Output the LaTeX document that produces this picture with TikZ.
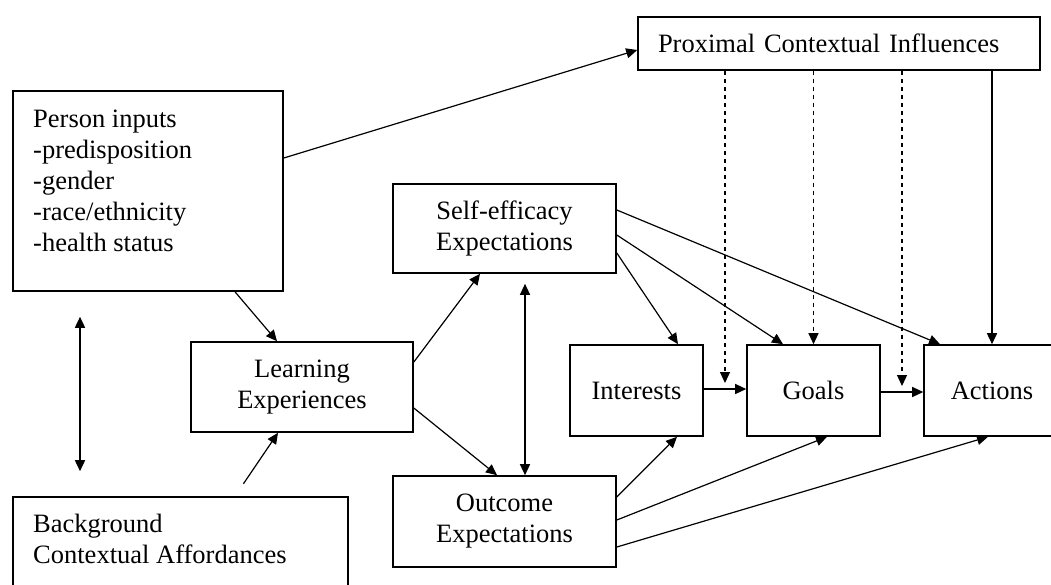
\documentclass[tikz,border=0pt]{standalone}
\usepackage{fontspec}
\setmainfont{Liberation Serif}
\usetikzlibrary{arrows.meta}

\tikzset{
    box/.style={draw, line width=1.6pt, inner sep=0pt, align=center, font=\fontsize{26.5}{31}\selectfont},
    txt/.style={inner sep=0pt, align=left, font=\fontsize{26.5}{31}\selectfont},
    arr/.style={line width=1.2pt, -{Triangle[length=11pt,width=10pt]}},
    darr/.style={arr, {Triangle[length=11pt,width=10pt]}-{Triangle[length=11pt,width=10pt]}},
    dsh/.style={arr, dash pattern={on 4pt off 4pt}}
}

\begin{document}
\begin{tikzpicture}[x=1pt,y=1pt,yscale=-1,xscale=1]
    \useasboundingbox (0,0) rectangle (1051,584);

    %Shape: Rectangle
    \node[box, minimum width=270pt, minimum height=200pt] (person) at (148,191) {};
    \node[txt, anchor=north west] (persontxt) at (33,110) {Person inputs\\-predisposition\\-gender\\-race/ethnicity\\-health status};
    %Shape: Rectangle
    \node[box, minimum width=335pt, minimum height=130pt] (back) at (180.5,562) {};
    \node[txt, anchor=north west] (backtxt) at (33,514) {Background\\Contextual Affordances};
    %Shape: Rectangle
    \node[box, align=left, text width=362pt, inner xsep=20pt, minimum height=53pt] (prox) at (839,43.5) {Proximal Contextual Influences};
    %Shape: Rectangle
    \node[box, minimum width=222pt, minimum height=90pt] (learn) at (302,387) {Learning\\Experiences};
    %Shape: Rectangle
    \node[box, minimum width=223pt, minimum height=89pt] (self) at (504.5,228.5) {Self-efficacy\\Expectations};
    %Shape: Rectangle
    \node[box, minimum width=223pt, minimum height=91pt] (out) at (504.5,521.5) {Outcome\\Expectations};
    %Shape: Rectangle
    \node[box, minimum width=133pt, minimum height=91pt] (int) at (636.5,390.5) {Interests};
    \node[box, minimum width=133pt, minimum height=91pt] (goal) at (813.5,390.5) {Goals};
    \node[box, minimum width=136pt, minimum height=91pt] (act) at (992,390.5) {Actions};

    %Straight Lines
    \draw[arr] (person.east |- 0,158) -- (prox.west |- 0,50);
    \draw[arr] (person.south -| 235,0) -- (learn.north -| 277,0);
    \draw[arr, shorten <=15pt] (back.north -| 235,0) -- (learn.south -| 278,0);
    \draw[darr, line width=1.6pt, shorten <=25pt, shorten >=25pt] (person.south -| 80,0) -- (back.north -| 80,0);
    \draw[arr] (learn.east |- 0,362) -- (self.south -| 480,0);
    \draw[arr] (learn.east |- 0,408) -- (out.north -| 497,0);
    \draw[darr, shorten <=10pt] (self.south -| 525,0) -- (out.north -| 525,0);

    %Straight Lines
    \draw[arr] (self.east |- 0,253) -- (int.north -| 678,0);
    \draw[arr] (self.east |- 0,235) -- (goal.north -| 783,0);
    \draw[arr] (self.east |- 0,210) -- (act.north -| 940,0);
    \draw[arr] (out.east |- 0,497) -- (int.south -| 677,0);
    \draw[arr] (out.east |- 0,520) -- (goal.south -| 827,0);
    \draw[arr] (out.east |- 0,547) -- (act.south -| 988,0);
    \draw[arr] (int.east |- 0,389) -- (goal.west |- 0,389);
    \draw[arr] (goal.east |- 0,392) -- (act.west |- 0,392);
    \draw[arr, line width=1.6pt] (prox.south -| act.north) -- (act.north);

    %Dashed Lines
    \coordinate (modIG) at (725,389);
    \coordinate (modGA) at (902,392);
    \draw[dsh, shorten >=6pt] (prox.south -| modIG) -- (modIG);
    \draw[dsh, shorten >=6pt] (prox.south -| modGA) -- (modGA);
    \draw[dsh] (prox.south -| goal.north) -- (goal.north);

\end{tikzpicture}
\end{document}
